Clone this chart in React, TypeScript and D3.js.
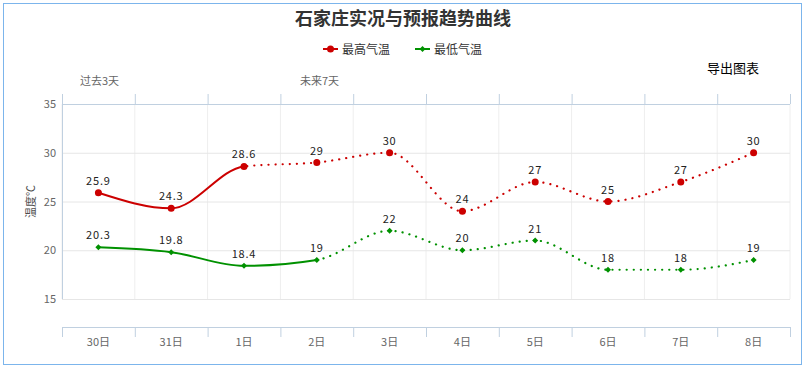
import React from 'react';
import * as d3 from 'd3';

const days = ['30日', '31日', '1日', '2日', '3日', '4日', '5日', '6日', '7日', '8日'];
const highTemps = [25.9, 24.3, 28.6, 29, 30, 24, 27, 25, 27, 30];
const lowTemps = [20.3, 19.8, 18.4, 19, 22, 20, 21, 18, 18, 19];
const yTicks = [15, 20, 25, 30, 35];
// index where the observed (solid) part ends and forecast (dotted) begins
const highSplit = 2;
const lowSplit = 3;

const W = 807;
const H = 369;
const margin = { top: 104, right: 17, bottom: 70, left: 62 };
const RED = '#cc0000';
const GREEN = '#009100';
const FONT = '"Noto Sans CJK SC", "Noto Sans", sans-serif';

export default function App() {
  const x = d3.scaleBand().domain(days).range([margin.left, W - margin.right]);
  const bw = x.bandwidth();
  const cx = (d: string) => (x(d) as number) + bw / 2;
  const y = d3.scaleLinear().domain([15, 35]).range([H - margin.bottom, margin.top]);
  const axisY = y(15) + 28;

  const line = d3
    .line<number>()
    .x((_, i) => cx(days[i]))
    .y(d => y(d))
    .curve(d3.curveMonotoneX);

  const boundaries = days.map(d => x(d) as number).concat([W - margin.right]);

  const series = [
    { name: '最高气温', data: highTemps, color: RED, split: highSplit, marker: 'circle' },
    { name: '最低气温', data: lowTemps, color: GREEN, split: lowSplit, marker: 'diamond' },
  ];

  const diamond = (px: number, py: number, r: number) =>
    `M${px},${py - r}L${px + r},${py}L${px},${py + r}L${px - r},${py}Z`;

  return (
    <div style={{ position: 'absolute', left: 0, top: 0 }}>
      <svg width={W} height={H} style={{ display: 'block', fontFamily: FONT }}>
        <rect x={0} y={0} width={W} height={H} fill="#fff" />
        <rect x={3.5} y={3.5} width={798} height={361} fill="none" stroke="#7cb5ec" strokeWidth={1} />
        <defs>
          {series.map((s, k) => (
            <React.Fragment key={k}>
              <clipPath id={`solid${k}`}>
                <rect x={0} y={0} width={cx(days[s.split])} height={H} />
              </clipPath>
              <clipPath id={`dot${k}`}>
                <rect x={cx(days[s.split])} y={0} width={W} height={H} />
              </clipPath>
            </React.Fragment>
          ))}
        </defs>

        {/* title */}
        <text x={403} y={25} textAnchor="middle" fontSize={18} fontWeight="bold" fill="#333">
          石家庄实况与预报趋势曲线
        </text>

        {/* legend */}
        {series.map((s, k) => {
          const lx = 323 + k * 92;
          return (
            <g key={k}>
              <line x1={lx} x2={lx + 15} y1={49} y2={49} stroke={s.color} strokeWidth={2} />
              {s.marker === 'circle' ? (
                <circle cx={lx + 7.5} cy={49} r={3.5} fill={s.color} />
              ) : (
                <path d={diamond(lx + 7.5, 49, 3)} fill={s.color} />
              )}
              <text x={lx + 19} y={53.5} fontSize={12} fill="#333">
                {s.name}
              </text>
            </g>
          );
        })}

        <text x={707} y={73} fontSize={13} fill="#000">导出图表</text>
        <text x={80} y={85} fontSize={11} fill="#666">过去3天</text>
        <text x={300} y={85} fontSize={11} fill="#666">未来7天</text>

        {/* vertical grid */}
        {boundaries.map((bx, i) => (
          <line key={i} x1={bx} x2={bx} y1={margin.top} y2={y(15)} stroke="#eeeeee" strokeWidth={1} />
        ))}
        {/* horizontal grid */}
        {yTicks.map(t => (
          <g key={t}>
            <line x1={margin.left} x2={W - margin.right} y1={y(t) + 0.5} y2={y(t) + 0.5} stroke="#e6e6e6" />
            <text x={56} y={y(t) + 4} textAnchor="end" fontSize={11} fill="#666">
              {t}
            </text>
          </g>
        ))}
        <line x1={margin.left + 0.5} x2={margin.left + 0.5} y1={margin.top - 10} y2={y(15)} stroke="#c0d0e0" />

        {/* top axis */}
        <line x1={margin.left} x2={W - margin.right} y1={margin.top + 0.5} y2={margin.top + 0.5} stroke="#c0d0e0" />
        {boundaries.map((bx, i) => (
          <line key={i} x1={bx + 0.5} x2={bx + 0.5} y1={margin.top - 10} y2={margin.top} stroke="#c0d0e0" />
        ))}

        {/* bottom axis */}
        <line x1={margin.left} x2={W - margin.right} y1={axisY + 0.5} y2={axisY + 0.5} stroke="#c0d0e0" />
        {boundaries.map((bx, i) => (
          <line key={i} x1={bx + 0.5} x2={bx + 0.5} y1={axisY} y2={axisY + 10} stroke="#c0d0e0" />
        ))}
        {days.map(d => (
          <text key={d} x={cx(d)} y={axisY + 19} textAnchor="middle" fontSize={11} fill="#666">
            {d}
          </text>
        ))}

        {/* y-axis title */}
        <text
          transform={`translate(35,${(margin.top + y(15)) / 2}) rotate(-90)`}
          textAnchor="middle"
          fontSize={11}
          fill="#4d4d4d"
        >
          温度℃
        </text>

        {/* series */}
        {series.map((s, k) => {
          const d = line(s.data) as string;
          return (
            <g key={k}>
              <path d={d} fill="none" stroke={s.color} strokeWidth={2} clipPath={`url(#solid${k})`} />
              <path
                d={d}
                fill="none"
                stroke={s.color}
                strokeWidth={2.2}
                strokeDasharray="0.1,7"
                strokeLinecap="round"
                clipPath={`url(#dot${k})`}
              />
              {s.data.map((v, i) => {
                const px = cx(days[i]);
                const py = y(v);
                return (
                  <g key={i}>
                    {s.marker === 'circle' ? (
                      <circle cx={px} cy={py} r={3.5} fill={s.color} />
                    ) : (
                      <path d={diamond(px, py, 3)} fill={s.color} />
                    )}
                    <text
                      x={px}
                      y={py - 8}
                      textAnchor="middle"
                      fontSize={11}
                      fill="#222"
                      stroke="#fff"
                      strokeWidth={2}
                      paintOrder="stroke"
                      style={{ letterSpacing: '0.8px' }}
                    >
                      {v}
                    </text>
                  </g>
                );
              })}
            </g>
          );
        })}
      </svg>
    </div>
  );
}
